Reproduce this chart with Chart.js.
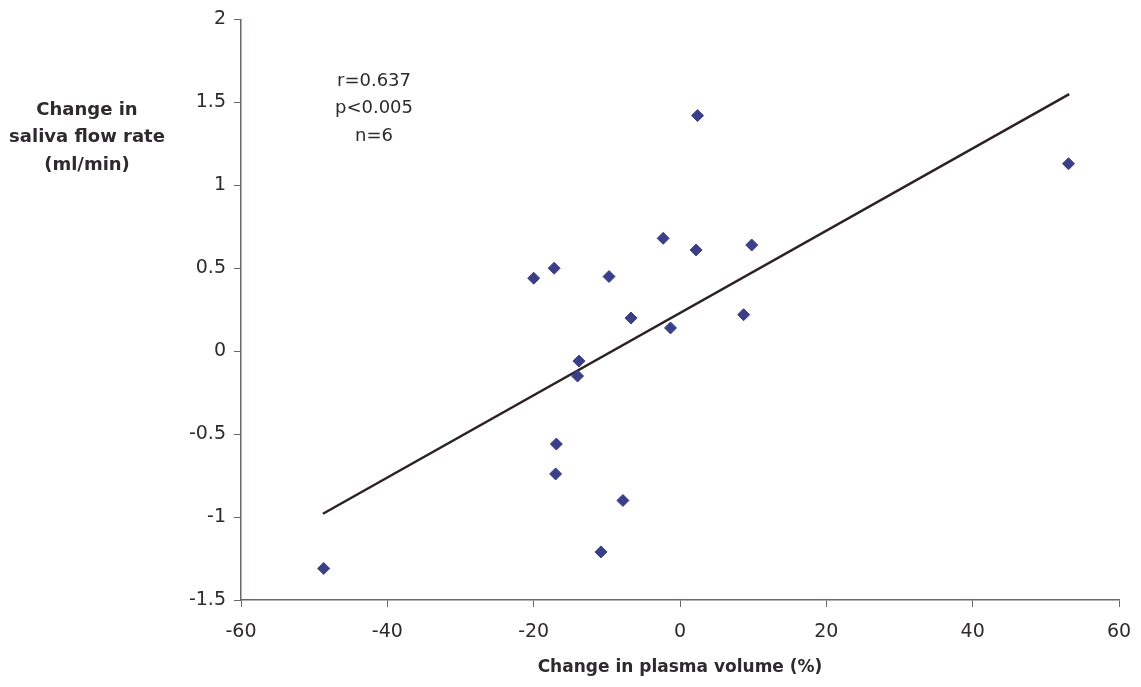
<!DOCTYPE html>
<html>
<head>
<meta charset="utf-8">
<script src="https://cdn.jsdelivr.net/npm/chart.js@4"></script>
<style>
  html, body { margin: 0; padding: 0; background: #fff; }
  #wrap { width: 1141px; height: 687px; }
</style>
</head>
<body>
<div id="wrap"><canvas id="salivaChart"></canvas></div>
<script>
// change in plasma volume (%) vs change in saliva flow rate (ml/min)
const plasmaChange = [-48.7, -20.0, -17.2, -9.7, -2.3, 2.4, 2.2, 9.8, 53.1, -6.7, -1.3, 8.7, -13.8, -14.0, -16.9, -17.0, -7.8, -10.8];
const salivaChange = [-1.31, 0.44, 0.50, 0.45, 0.68, 1.42, 0.61, 0.64, 1.13, 0.20, 0.14, 0.22, -0.06, -0.15, -0.56, -0.74, -0.90, -1.21];

// fitted regression line end points
const fitX = [-48.8, 53.2];
const fitY = [-0.98, 1.55];

const statsText = ["r=0.637", "p<0.005", "n=6"];
const yTitleLines = ["Change in", "saliva flow rate", "(ml/min)"];

const fontFamily = '"DejaVu Sans", "Liberation Sans", sans-serif';
const axisColor = '#6e6470';
const textColor = '#2e2a2e';

const sidePlugin = {
    id: 'sideText',
    afterDraw(chart) {
        const ctx = chart.ctx;
        ctx.save();
        ctx.fillStyle = textColor;
        ctx.textAlign = 'center';
        ctx.textBaseline = 'middle';
        ctx.font = 'bold 18px ' + fontFamily;
        yTitleLines.forEach((t, i) => ctx.fillText(t, 87, 110 + i * 27.5));
        ctx.font = '18px ' + fontFamily;
        statsText.forEach((t, i) => ctx.fillText(t, 374, 81 + i * 27.5));
        ctx.restore();
    }
};

new Chart(document.getElementById('salivaChart'), {
    type: 'scatter',
    data: {
        datasets: [{
            label: 'Subjects',
            data: plasmaChange.map((x, i) => ({ x: x, y: salivaChange[i] })),
            pointStyle: 'rectRot',
            radius: 6,
            backgroundColor: '#3b3f88',
            borderColor: '#3b3f88',
            borderWidth: 1
        }, {
            label: 'Fit',
            data: fitX.map((x, i) => ({ x: x, y: fitY[i] })),
            showLine: true,
            pointRadius: 0,
            borderColor: '#2c2224',
            borderWidth: 2.5
        }]
    },
    options: {
        responsive: true,
        maintainAspectRatio: false,
        animation: false,
        layout: { padding: { top: 15, right: 22, bottom: 0, left: 0 } },
        plugins: {
            legend: { display: false },
            tooltip: { enabled: false }
        },
        scales: {
            x: {
                type: 'linear',
                min: -60,
                max: 60,
                ticks: {
                    stepSize: 20,
                    color: textColor,
                    font: { family: fontFamily, size: 19 },
                    padding: 14
                },
                grid: {
                    drawOnChartArea: false,
                    color: axisColor,
                    tickLength: 7
                },
                border: { color: axisColor, width: 1.5 },
                title: {
                    display: true,
                    text: 'Change in plasma volume (%)',
                    color: textColor,
                    font: { family: fontFamily, size: 17, weight: 'bold' },
                    padding: { top: 0, bottom: 9 }
                },
                afterFit(scale) {
                    scale.height = 87;
                    scale.paddingLeft = 0;
                    scale.paddingRight = 0;
                }
            },
            y: {
                type: 'linear',
                min: -1.5,
                max: 2,
                ticks: {
                    stepSize: 0.5,
                    color: textColor,
                    font: { family: fontFamily, size: 19 },
                    padding: 8,
                    callback: (v) => String(Number(v.toFixed(1)))
                },
                grid: {
                    drawOnChartArea: false,
                    color: axisColor,
                    tickLength: 7
                },
                border: { color: axisColor, width: 1.5 },
                afterFit(scale) { scale.width = 241; }
            }
        }
    },
    plugins: [sidePlugin]
});
</script>
</body>
</html>
